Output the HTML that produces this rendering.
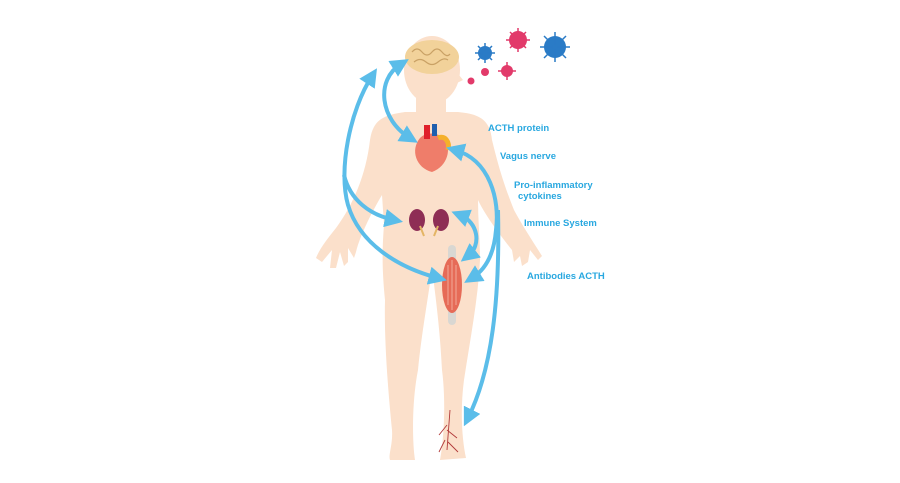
<!DOCTYPE html>
<html><head><style>
html,body{margin:0;padding:0;background:#fff;width:900px;height:483px;overflow:hidden}
svg{display:block}
text{font-family:"Liberation Sans",sans-serif;font-weight:bold;fill:#29a8e0;font-size:9.5px}
</style></head><body>
<svg width="900" height="483" viewBox="0 0 900 483">
<defs>
<marker id="ah" viewBox="0 0 10 10" refX="5" refY="5" markerWidth="4.6" markerHeight="4.6" orient="auto-start-reverse">
<path d="M0,0 L10,5 L0,10 z" fill="#5bbde9"/></marker>
</defs>
<g fill="#fbe0cb">
<ellipse cx="432" cy="70" rx="28" ry="34"/>
<path d="M455,70 l8,10 -6,3 z"/>
<rect x="416" y="90" width="30" height="30"/>
<path d="M405,112 C383,115 373,120 370,140 C366,175 353,205 336,228 C328,238 320,248 316,258 L322,262 L332,250 L330,268 L336,268 L340,252 L344,266 L348,262 L348,248 L354,258 L356,252 C360,235 373,210 382,195 L384,225 C382,250 382,270 385,300 C384,340 388,390 392,430 C393,445 388,455 390,460 L415,460 C412,440 412,400 418,370 C422,330 428,300 432,268 C436,300 440,330 442,370 C446,400 444,440 440,460 L466,458 C462,440 460,410 464,380 C470,340 478,300 480,260 C480,240 478,220 478,200 C485,215 500,235 512,250 L514,262 L520,256 L522,266 L528,262 L530,250 L538,260 L542,256 C532,240 522,225 514,210 C502,180 497,160 492,140 C490,120 480,114 458,112 Z"/>
</g>
<ellipse cx="432" cy="57" rx="27" ry="17" fill="#f2d29a"/>
<path d="M412,52 q5,-6 10,0 t10,0 t10,0 t8,2 M414,62 q6,-5 12,0 t12,0 t10,-2" stroke="#c9a165" fill="none" stroke-width="1.2"/>
<path d="M420,138 C410,150 416,168 432,172 C448,166 452,148 444,138 C436,132 426,132 420,138 Z" fill="#ef7d6a"/>
<rect x="424" y="125" width="6" height="14" fill="#e0202a"/><rect x="432" y="124" width="5" height="12" fill="#1f5fae"/>
<path d="M438,138 C445,135 450,142 448,150" stroke="#f5b02b" stroke-width="5" fill="none"/>
<ellipse cx="417" cy="220" rx="8" ry="11" fill="#8e2e55"/>
<ellipse cx="441" cy="220" rx="8" ry="11" fill="#8e2e55"/>
<path d="M420,226 l4,10 M438,226 l-4,10" stroke="#e4b565" stroke-width="2"/>
<rect x="448" y="245" width="8" height="80" rx="4" fill="#d9d7d2"/>
<ellipse cx="452" cy="285" rx="10" ry="28" fill="#e66b57"/>
<path d="M448,265 v40 M452,260 v50 M456,265 v40" stroke="#f7b9a8" stroke-width="0.8"/>
<path d="M450,410 l-3,40 M447,425 l-8,10 M447,430 l10,8 M445,440 l-6,12 M448,442 l10,10" stroke="#b23a3a" stroke-width="0.9" fill="none"/>
<g fill="#2a7bc6"><circle cx="485" cy="53" r="7"/><circle cx="555" cy="47" r="11"/></g>
<g fill="#e23a6a"><circle cx="518" cy="40" r="9"/><circle cx="507" cy="71" r="6"/><circle cx="485" cy="72" r="4"/><circle cx="471" cy="81" r="3.5"/></g>
<g stroke="#2a7bc6" stroke-width="1.5"><path d="M485,43v20M475,53h20M478,46l14,14M492,46l-14,14"/><path d="M555,32v30M540,47h30M544,36l22,22M566,36l-22,22"/></g>
<g stroke="#e23a6a" stroke-width="1.5"><path d="M518,28v24M506,40h24M510,32l16,16M526,32l-16,16"/><path d="M507,62v18M498,71h18"/></g>
<g stroke="#5bbde9" stroke-width="4" fill="none">
<path d="M372,76 C350,110 338,170 348,205 C360,245 400,268 438,278" marker-start="url(#ah)" marker-end="url(#ah)"/>
<path d="M401,64 C375,80 380,120 410,138" marker-start="url(#ah)" marker-end="url(#ah)"/>
<path d="M344,175 C350,200 370,215 394,220" marker-end="url(#ah)"/>
<path d="M460,215 C478,222 482,245 468,256" marker-start="url(#ah)" marker-end="url(#ah)"/>
<path d="M455,150 C490,160 500,200 496,230 C494,255 485,270 472,278" marker-start="url(#ah)" marker-end="url(#ah)"/>
<path d="M498,210 C500,300 492,370 468,418" marker-end="url(#ah)"/>
</g>
<text x="488" y="131">ACTH protein</text>
<text x="500" y="159">Vagus nerve</text>
<text x="514" y="188">Pro-inflammatory</text>
<text x="518" y="199">cytokines</text>
<text x="524" y="226">Immune System</text>
<text x="527" y="279">Antibodies ACTH</text>
</svg>
</body></html>
